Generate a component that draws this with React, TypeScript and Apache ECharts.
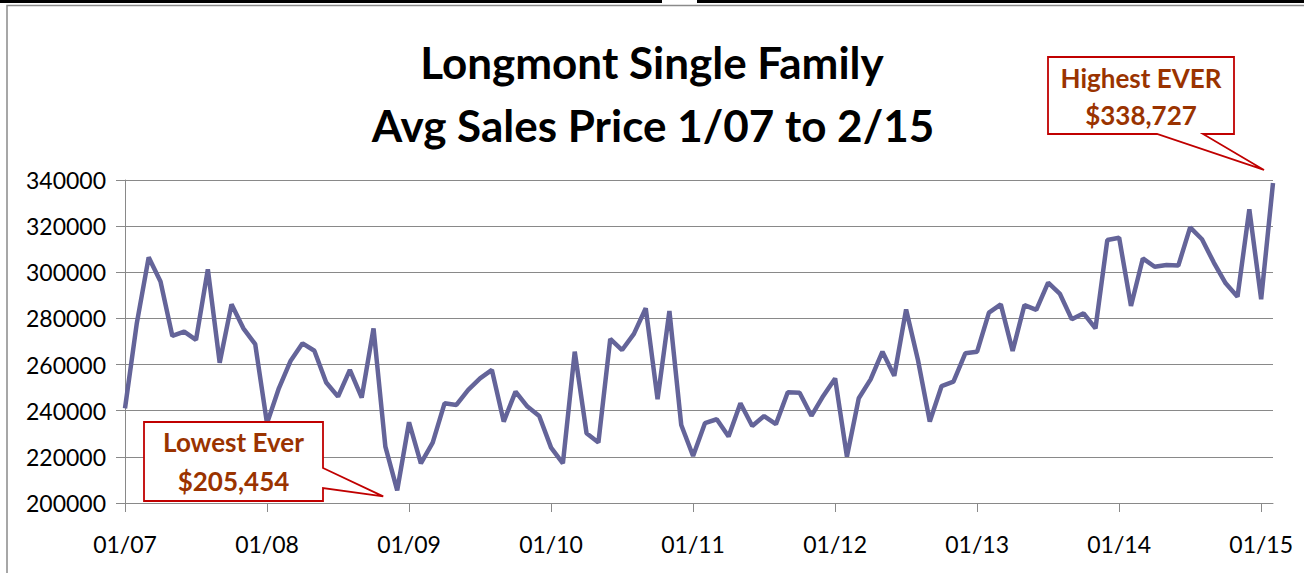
import React, { useEffect, useRef } from "react";
import * as echarts from "echarts";

const years = ["07", "08", "09", "10", "11", "12", "13", "14", "15"];
const monthNums = ["01", "02", "03", "04", "05", "06", "07", "08", "09", "10", "11", "12"];
const lastMonthCount = 2; // Jan & Feb 2015

const categories: string[] = [];
years.forEach((y, yi) => {
  const n = yi === years.length - 1 ? lastMonthCount : 12;
  for (let m = 0; m < n; m++) categories.push(monthNums[m] + "/" + y);
});

const avgPrice = [
  241000, 278000, 306500, 296000, 272400, 274300, 270700, 301300, 260800, 286100, 275700, 268900,
  234500, 249700, 261700, 269200, 266000, 252200, 246100, 257700, 245700, 275700, 224400, 205454,
  235000, 217200, 226200, 243200, 242500, 249000, 254000, 257700, 235300, 248300, 241800, 237700,
  224000, 217200, 265600, 230200, 226200, 271100, 266300, 273300, 284400, 245000, 283200, 233800,
  220400, 234600, 236300, 228800, 243200, 233400, 237700, 234200, 248000, 247800, 237800, 246400,
  254000, 220100, 245400, 253600, 265600, 255100, 283900, 262000, 235300, 250700, 252600, 264900,
  265600, 282500, 286100, 265900, 285800, 283700, 295500, 290600, 279600, 282200, 275700, 314000,
  315000, 285400, 306000, 302400, 303200, 302900, 319500, 314300, 304200, 295200, 289400, 327300,
  288300, 338727,
];

const titleLines = ["Longmont Single Family", "Avg Sales Price 1/07 to 2/15"];
const highLabel = ["Highest EVER", "$338,727"];
const lowLabel = ["Lowest Ever", "$205,454"];

const FONT = "Lato, 'Open Sans', sans-serif";
const BROWN = "#9a3300";
const RED = "#c00000";
const GRAY = "#898989";

export default function App() {
  const ref = useRef<HTMLDivElement>(null);
  useEffect(() => {
    if (!ref.current) return;
    const chart = echarts.init(ref.current, null, { renderer: "svg" });
    chart.setOption({
      animation: false,
      backgroundColor: "#ffffff",
      grid: { left: 125, right: 31, top: 180, bottom: 70, containLabel: false },
      xAxis: {
        type: "category",
        data: categories,
        boundaryGap: false,
        axisLine: { show: true, lineStyle: { color: GRAY, width: 1 } },
        axisTick: {
          show: true,
          length: 9,
          interval: (i: number) => i % 12 === 0,
          lineStyle: { color: GRAY },
        },
        axisLabel: {
          interval: (i: number) => i % 12 === 0,
          margin: 29,
          fontFamily: FONT,
          fontSize: 23,
          color: "#000",
        },
        splitLine: { show: false },
      },
      yAxis: {
        type: "value",
        min: 200000,
        max: 340000,
        interval: 20000,
        axisLine: { show: true, lineStyle: { color: GRAY, width: 1 } },
        axisTick: { show: true, length: 9, lineStyle: { color: GRAY } },
        axisLabel: {
          margin: 19,
          fontFamily: FONT,
          fontSize: 23,
          color: "#000",
          formatter: (v: number) => String(v),
        },
        splitLine: { show: true, lineStyle: { color: GRAY, width: 1 } },
      },
      series: [
        {
          type: "line",
          data: avgPrice,
          symbol: "none",
          lineStyle: { color: "#646499", width: 4.5 },
          z: 3,
        },
      ],
    });

    const hiIdx = avgPrice.length - 1;
    const loIdx = avgPrice.indexOf(Math.min(...avgPrice));
    const hiPt = chart.convertToPixel({ xAxisIndex: 0, yAxisIndex: 0 }, [hiIdx, avgPrice[hiIdx]]) as number[];
    const loPt = chart.convertToPixel({ xAxisIndex: 0, yAxisIndex: 0 }, [loIdx, avgPrice[loIdx]]) as number[];

    const hiTip = [hiPt[0] - 9, hiPt[1] - 13];
    const loTip = [loPt[0] - 14, loPt[1] + 6];

    const hiBox = { x1: 1048, y1: 57, x2: 1234, y2: 134 };
    const loBox = { x1: 144, y1: 422, x2: 323, y2: 501 };

    const calloutText = (lines: string[], cx: number, y1: number, y2: number) => [
      {
        type: "text",
        z: 20,
        style: {
          text: lines[0],
          x: cx,
          y: y1,
          align: "center",
          verticalAlign: "middle",
          fontFamily: FONT,
          fontWeight: "bold",
          fontSize: 26,
          fill: BROWN,
        },
      },
      {
        type: "text",
        z: 20,
        style: {
          text: lines[1],
          x: cx,
          y: y2,
          align: "center",
          verticalAlign: "middle",
          fontFamily: FONT,
          fontWeight: "bold",
          fontSize: 26,
          fill: BROWN,
        },
      },
    ];

    chart.setOption({
      graphic: [
        { type: "rect", shape: { x: 0, y: 0, width: 662, height: 3 }, style: { fill: "#000" }, z: 30 },
        { type: "rect", shape: { x: 697, y: 0, width: 607, height: 3 }, style: { fill: "#000" }, z: 30 },
        {
          type: "rect",
          shape: { x: 7, y: 5.5, width: 1400, height: 700 },
          style: { fill: "none", stroke: "#8a8a8a", lineWidth: 1.5 },
          z: 30,
        },
        {
          type: "text",
          z: 20,
          style: {
            text: titleLines[0],
            x: 652,
            y: 62,
            align: "center",
            verticalAlign: "middle",
            fontFamily: FONT,
            fontWeight: "bold",
            fontSize: 44,
            fill: "#000",
          },
        },
        {
          type: "text",
          z: 20,
          style: {
            text: titleLines[1],
            x: 653,
            y: 125,
            align: "center",
            verticalAlign: "middle",
            fontFamily: FONT,
            fontWeight: "bold",
            fontSize: 44,
            fill: "#000",
          },
        },
        {
          type: "polygon",
          z: 15,
          shape: {
            points: [
              [hiBox.x1, hiBox.y1],
              [hiBox.x2, hiBox.y1],
              [hiBox.x2, hiBox.y2],
              [1203, hiBox.y2],
              hiTip,
              [1157, hiBox.y2],
              [hiBox.x1, hiBox.y2],
            ],
          },
          style: { fill: "#fff", stroke: RED, lineWidth: 1.8 },
        },
        ...calloutText(highLabel, (hiBox.x1 + hiBox.x2) / 2, 78, 115),
        {
          type: "polygon",
          z: 15,
          shape: {
            points: [
              [loBox.x1, loBox.y1],
              [loBox.x2, loBox.y1],
              [loBox.x2, 468],
              loTip,
              [loBox.x2, 488],
              [loBox.x2, loBox.y2],
              [loBox.x1, loBox.y2],
            ],
          },
          style: { fill: "#fff", stroke: RED, lineWidth: 1.8 },
        },
        ...calloutText(lowLabel, (loBox.x1 + loBox.x2) / 2, 442, 481),
      ],
    });

    return () => chart.dispose();
  }, []);

  return (
    <div
      ref={ref}
      style={{ position: "fixed", left: 0, top: 0, width: 1304, height: 573, background: "#fff" }}
    />
  );
}
